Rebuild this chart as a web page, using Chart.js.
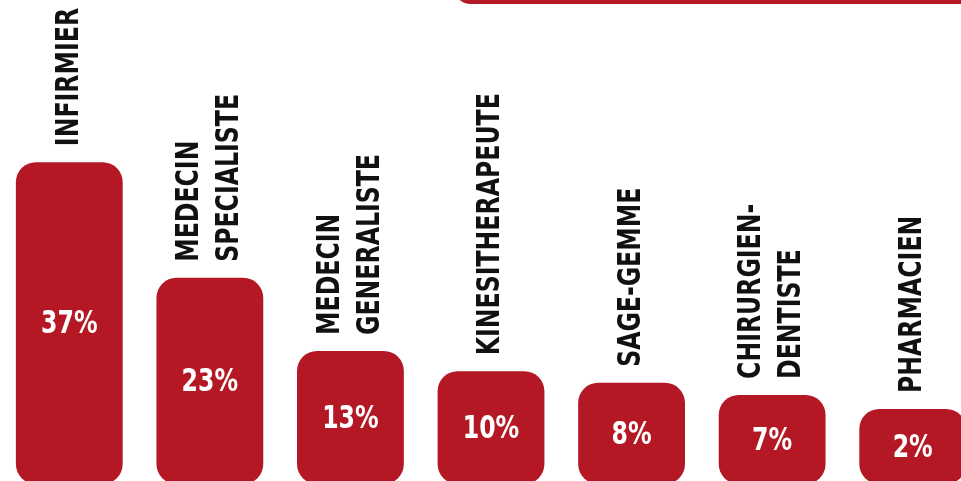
<!DOCTYPE html>
<html>
<head>
<meta charset="utf-8">
<script src="https://cdn.jsdelivr.net/npm/chart.js@4"></script>
<style>
  html, body { margin: 0; padding: 0; background: #fff; overflow: hidden; }
  body { width: 961px; height: 481px; position: relative; }
  #tab {
    position: absolute; left: 453px; top: -40px; width: 540px; height: 44px;
    background: #b31824; border-radius: 18px;
  }
  #wrap { position: absolute; left: -1px; top: 0; width: 984px; height: 484px; }
</style>
</head>
<body>
<div id="tab"></div>
<div id="wrap"><canvas id="chart"></canvas></div>
<script>
// categories (line breaks as in the picture)
var categories = [
  "INFIRMIER",
  "MEDECIN\nSPECIALISTE",
  "MEDECIN\nGENERALISTE",
  "KINESITHERAPEUTE",
  "SAGE-GEMME",
  "CHIRURGIEN-\nDENTISTE",
  "PHARMACIEN",
];

// shares printed inside the bars
var shares = [37, 23, 13, 10, 8, 7, 2];

// the drawn bars are not to scale: heights (0-100 = full height)
var barLevels = [66.5, 42.6, 27.5, 23.3, 20.9, 18.4, 15.5];

var RED = "#b31824";
var FONT = "'DejaVu Sans Condensed', 'Liberation Sans Narrow', sans-serif";

// ── labels: share inside the bar, rotated category name above ──
var labelPlugin = {
  id: "barLabels",
  afterDatasetsDraw: function (chart) {
    var ctx = chart.ctx;
    var bars = chart.getDatasetMeta(0).data;
    bars.forEach(function (bar, i) {
      var props = bar.getProps(["x", "y", "base"], true);

      // share, squeezed a bit to look like a condensed face
      ctx.save();
      ctx.translate(props.x, (props.y + props.base) / 2 + 2);
      ctx.scale(0.82, 1);
      ctx.fillStyle = "#fff";
      ctx.font = "bold 32px " + FONT;
      ctx.textAlign = "center";
      ctx.textBaseline = "middle";
      ctx.fillText(shares[i] + "%", 0, 0);
      ctx.restore();

      var lines = categories[i].split("\n");
      ctx.save();
      ctx.translate(props.x, props.y - 16);
      ctx.rotate(-Math.PI / 2);
      ctx.scale(0.82, 1);
      ctx.fillStyle = "#111";
      ctx.font = "bold 32px " + FONT;
      ctx.textAlign = "left";
      ctx.textBaseline = "middle";
      lines.forEach(function (line, j) {
        ctx.fillText(line, 0, (j - (lines.length - 1) / 2) * 40);
      });
      ctx.restore();
    });
  },
};

new Chart(document.getElementById("chart"), {
  type: "bar",
  data: {
    labels: categories,
    datasets: [{
      data: barLevels,
      backgroundColor: RED,
      borderRadius: 20,
      borderSkipped: false,
      barPercentage: 0.76,
      categoryPercentage: 1,
    }],
  },
  options: {
    responsive: true,
    maintainAspectRatio: false,
    animation: false,
    layout: { padding: 0 },
    plugins: { legend: { display: false }, tooltip: { enabled: false } },
    scales: {
      x: { display: false, offset: true },
      y: { display: false, min: 0, max: 100 },
    },
  },
  plugins: [labelPlugin],
});
</script>
</body>
</html>
